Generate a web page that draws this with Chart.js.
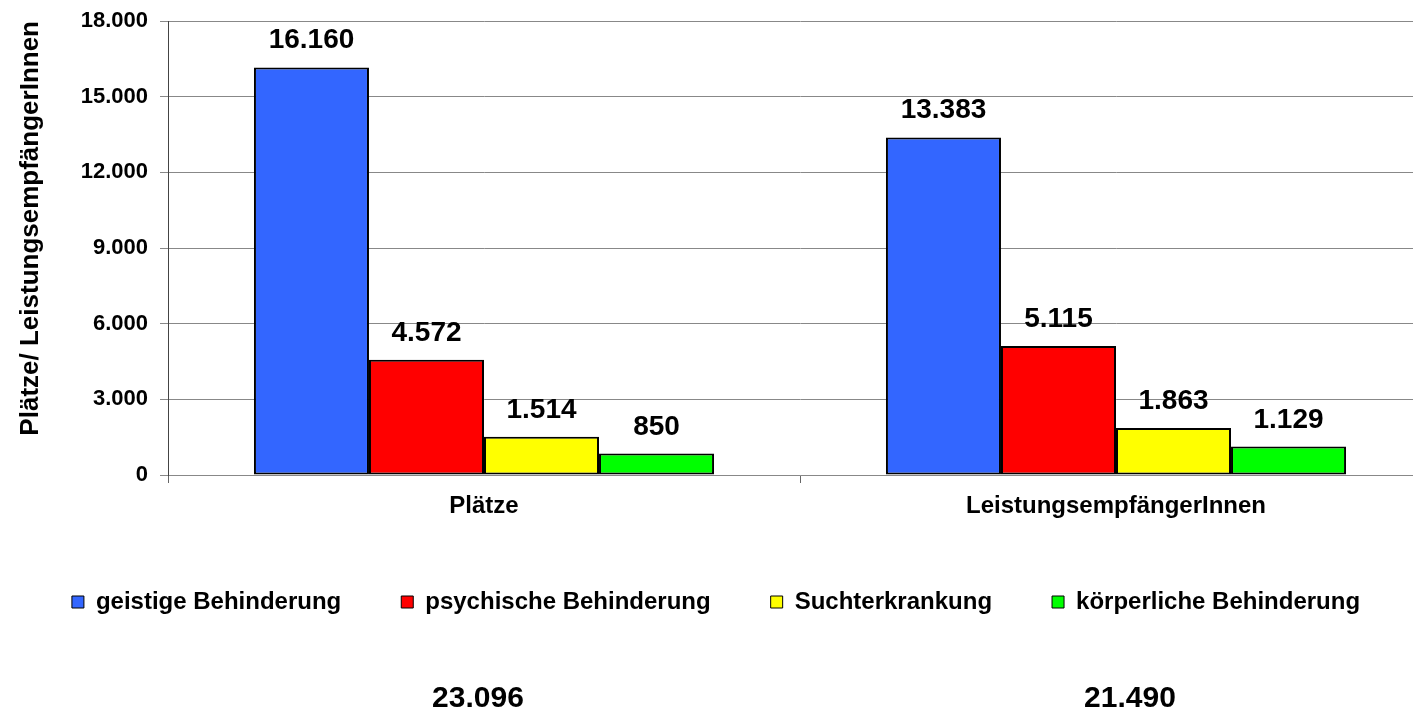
<!DOCTYPE html>
<html>
<head>
<meta charset="utf-8">
<script src="https://cdn.jsdelivr.net/npm/chart.js@4"></script>
<style>
  html, body { margin: 0; padding: 0; background: #fff; overflow: hidden; }
</style>
</head>
<body>
<canvas id="chart" width="1440" height="712"></canvas>
<script>
const categories = ["Plätze", "LeistungsempfängerInnen"];
const seriesNames = ["geistige Behinderung", "psychische Behinderung", "Suchterkrankung", "körperliche Behinderung"];
const geistig = [16160, 13383];
const psychisch = [4572, 5115];
const sucht = [1514, 1863];
const koerperlich = [850, 1129];
const colors = ["#3366FF", "#FF0000", "#FFFF00", "#00FF00"];

const font = "'Liberation Sans', Arial, sans-serif";

function fmt(v) {
  return String(v).replace(/\B(?=(\d{3})+(?!\d))/g, ".");
}

const seriesValues = [geistig, psychisch, sucht, koerperlich];

// Werte über den Balken und Summen unter dem Diagramm
const labelsPlugin = {
  id: "labels",
  afterDatasetsDraw(chart) {
    const ctx = chart.ctx;
    ctx.save();
    ctx.fillStyle = "#000";
    ctx.textAlign = "center";
    ctx.textBaseline = "alphabetic";
    ctx.font = "bold 28px " + font;
    chart.data.datasets.forEach((ds, i) => {
      chart.getDatasetMeta(i).data.forEach((bar, j) => {
        ctx.fillText(fmt(ds.data[j]), bar.x, bar.y - 19);
      });
    });
    const x = chart.scales.x;
    ctx.font = "bold 30px " + font;
    categories.forEach((c, j) => {
      const total = seriesValues.reduce((s, arr) => s + arr[j], 0);
      ctx.fillText(fmt(total), x.getPixelForValue(j) + (j === 0 ? -6 : 14), 707);
    });
    ctx.restore();
  }
};

new Chart(document.getElementById("chart"), {
  type: "bar",
  data: {
    labels: categories,
    datasets: seriesNames.map((name, i) => ({
      label: name,
      data: seriesValues[i],
      backgroundColor: colors[i],
      borderColor: "#000",
      borderWidth: 2,
      borderSkipped: false,
      categoryPercentage: 0.728,
      barPercentage: 1
    }))
  },
  options: {
    responsive: false,
    animation: false,
    layout: { padding: { top: 21, right: 8, bottom: 88, left: 0 } },
    plugins: {
      tooltip: { enabled: false },
      legend: {
        position: "bottom",
        labels: {
          color: "#000",
          font: { family: font, size: 24, weight: "bold" },
          boxWidth: 12,
          boxHeight: 12,
          padding: 60,
          generateLabels(chart) {
            return Chart.defaults.plugins.legend.labels.generateLabels(chart).map((l) => {
              l.lineWidth = 1;
              return l;
            });
          }
        }
      }
    },
    scales: {
      x: {
        afterFit(scale) { scale.height = 55; },
        grid: { drawOnChartArea: false, tickLength: 8, color: "#666" },
        border: { color: "#888", width: 1 },
        ticks: {
          color: "#000",
          padding: 9,
          font: { family: font, size: 24, weight: "bold" }
        }
      },
      y: {
        min: 0,
        max: 18000,
        afterFit(scale) {
          scale.width = 168;
          scale.paddingTop = 0;
          scale.paddingBottom = 0;
        },
        grid: { color: "#888", tickLength: 8 },
        border: { color: "#444", width: 1 },
        ticks: {
          stepSize: 3000,
          color: "#000",
          padding: 12,
          font: { family: font, size: 22, weight: "bold" },
          callback: (v) => fmt(v)
        },
        title: {
          display: true,
          text: "Plätze/ LeistungsempfängerInnen",
          align: "end",
          color: "#000",
          padding: { top: 15, bottom: 0 },
          font: { family: font, size: 26, weight: "bold" }
        }
      }
    }
  },
  plugins: [labelsPlugin]
});
</script>
</body>
</html>
